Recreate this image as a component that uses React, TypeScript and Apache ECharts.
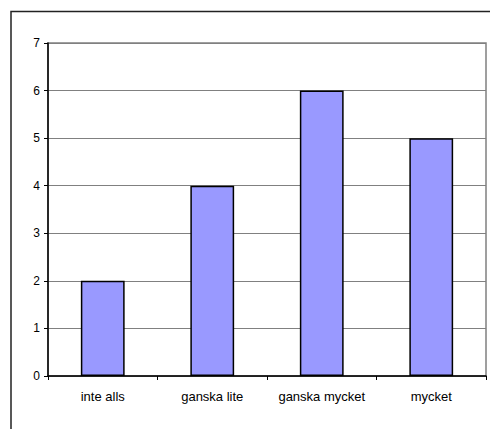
import React, { useEffect, useRef } from "react";
import * as echarts from "echarts";

const categories = ["inte alls", "ganska lite", "ganska mycket", "mycket"];
const values = [2, 4, 6, 5];
const yTicks = [0, 1, 2, 3, 4, 5, 6, 7];

export default function App() {
  const ref = useRef<HTMLDivElement>(null);

  useEffect(() => {
    if (!ref.current) return;
    const chart = echarts.init(ref.current, null, { renderer: "svg" });
    const font = "Arial, 'Liberation Sans', sans-serif";
    chart.setOption({
      animation: false,
      backgroundColor: "#ffffff",
      textStyle: { fontFamily: font },
      graphic: [
        {
          type: "rect",
          left: 0.5,
          top: 1,
          shape: { width: 520, height: 460 },
          style: { fill: "none", stroke: "#222222", lineWidth: 1.5 },
          silent: true,
        },
      ],
      grid: {
        left: 40,
        top: 35,
        right: 12,
        bottom: 53,
        show: true,
        borderColor: "#808080",
        borderWidth: 1.5,
        backgroundColor: "transparent",
      },
      xAxis: {
        type: "category",
        data: categories,
        boundaryGap: true,
        axisLine: { show: true, lineStyle: { color: "#000000", width: 1.5 } },
        axisTick: {
          show: true,
          interval: 0,
          alignWithLabel: false,
          length: 4,
          lineStyle: { color: "#000000", width: 1 },
        },
        axisLabel: {
          color: "#000000",
          fontSize: 13,
          margin: 14,
          interval: 0,
          hideOverlap: false,
          fontFamily: font,
        },
        splitLine: { show: false },
      },
      yAxis: {
        type: "value",
        min: yTicks[0],
        max: yTicks[yTicks.length - 1],
        interval: 1,
        axisLine: { show: true, lineStyle: { color: "#000000", width: 1.5 } },
        axisTick: { show: true, length: 4, lineStyle: { color: "#000000", width: 1 } },
        axisLabel: {
          color: "#000000",
          fontSize: 12,
          margin: 8,
          fontFamily: font,
        },
        splitLine: { show: true, lineStyle: { color: "#808080", width: 1 } },
      },
      series: [
        {
          type: "bar",
          data: values,
          barWidth: "40%",
          itemStyle: {
            color: "#9999FF",
            borderColor: "#000000",
            borderWidth: 1.5,
          },
        },
      ],
    });
    return () => chart.dispose();
  }, []);

  return <div ref={ref} style={{ width: 490, height: 421 }} />;
}
